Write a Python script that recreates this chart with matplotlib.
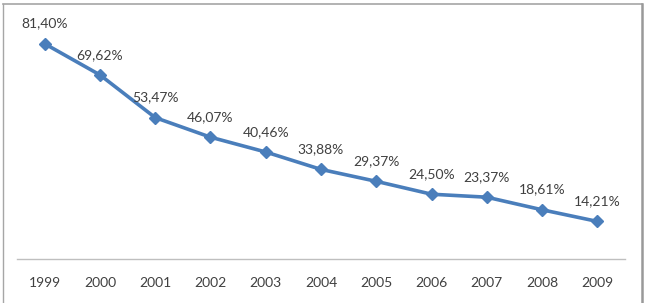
import matplotlib
matplotlib.use("Agg")
import matplotlib.pyplot as plt
from matplotlib.lines import Line2D

years = ["1999", "2000", "2001", "2002", "2003", "2004", "2005", "2006", "2007", "2008", "2009"]
values = [81.40, 69.62, 53.47, 46.07, 40.46, 33.88, 29.37, 24.50, 23.37, 18.61, 14.21]
labels = ["81,40%", "69,62%", "53,47%", "46,07%", "40,46%", "33,88%", "29,37%", "24,50%", "23,37%", "18,61%", "14,21%"]

W, H = 648, 303
fig = plt.figure(figsize=(W / 100, H / 100), dpi=100)
fig.patch.set_facecolor("white")

ax = fig.add_axes([17 / W, (H - 259) / H, (625 - 17) / W, (259 - 21) / H])
x = list(range(len(years)))
ax.plot(x, values, color="#4A7EBB", lw=2.6, marker="D", ms=6.5,
        mfc="#4A7EBB", mec="#4A7EBB", solid_joinstyle="round")
for xi, v, lab in zip(x, values, labels):
    ax.annotate(lab, (xi, v), xytext=(0, 14.5), textcoords="offset points",
                ha="center", va="center", fontsize=10, family="Lato",
                color="#404040")

ax.set_xlim(-0.5, len(years) - 0.5)
ax.set_ylim(0, 90)
ax.set_yticks([])
ax.set_xticks(x)
ax.set_xticklabels(years, fontsize=10, family="Lato", color="#404040")
ax.tick_params(axis="x", length=0, pad=13)
for s in ["top", "left", "right"]:
    ax.spines[s].set_visible(False)
ax.spines["bottom"].set_color("#BFBFBF")
ax.spines["bottom"].set_linewidth(1.0)

# outer chart frame
def fx(px):
    return px / W
def fy(py):
    return 1 - py / H
fig.add_artist(Line2D([fx(3), fx(3)], [fy(4), fy(303)], color="#A6A6A6", lw=1.0))
fig.add_artist(Line2D([fx(3), fx(642)], [fy(4), fy(4)], color="#A6A6A6", lw=1.2))
fig.add_artist(Line2D([fx(642), fx(642)], [fy(4), fy(303)], color="#999999", lw=1.8))

fig.savefig("out.png", dpi=100, facecolor="white")
